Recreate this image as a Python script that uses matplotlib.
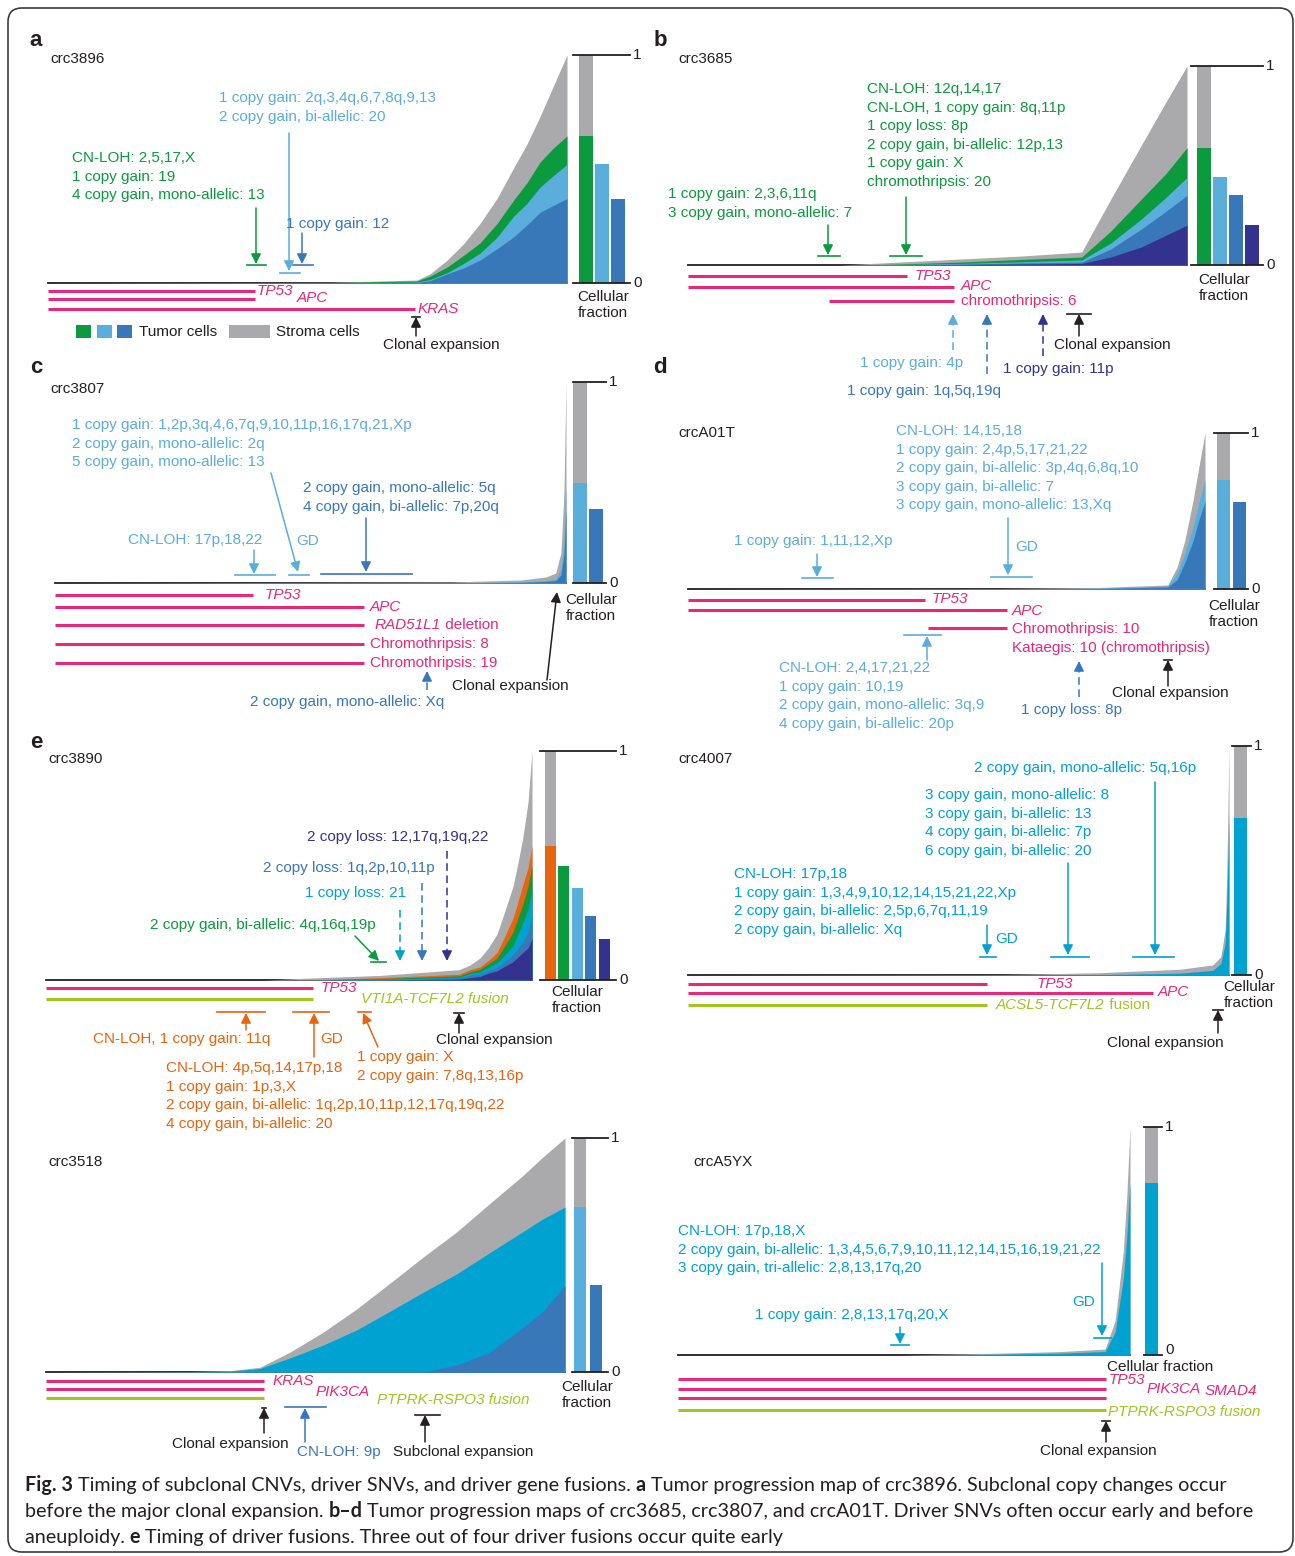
import matplotlib
matplotlib.use('Agg')
import matplotlib.pyplot as plt
from matplotlib.patches import Rectangle, FancyBboxPatch

W, H = 1295, 1556
plt.rcParams['font.family'] = ['Liberation Sans', 'DejaVu Sans']

GREEN = '#0b9a3d'
LBLUE = '#5aaedb'
DBLUE = '#3878b9'
NAVY = '#33328f'
GRAY = '#aaaaac'
PINK = '#e8287a'
ORANGE = '#e9640e'
LIME = '#a2c61f'
CYAN = '#00a2d2'
INK = '#231f20'

# ---- values; time runs 0..1 along each baseline ----
# a: crc3896
a_time = [0, .543, .711, .736, .769, .800, .832, .865, .896, .923, .948, .973, 1.0]
a_stroma = [0, .003, .013, .04, .10, .17, .26, .37, .50, .61, .73, .86, 1.0]
a_green = [0, .002, .009, .03, .07, .12, .175, .26, .36, .44, .53, .59, .645]
a_lblue = [0, 0, .004, .015, .045, .085, .13, .20, .29, .35, .42, .47, .52]
a_dblue = [0, 0, .002, .01, .04, .065, .10, .15, .20, .255, .31, .34, .37]
# b: crc3685
b_time = [0, .305, .426, .546, .667, .789, .847, .908, .958, 1.0]
b_stroma = [0, 0, .015, .03, .045, .065, .33, .60, .82, 1.0]
b_green = [0, 0, .005, .015, .028, .04, .17, .33, .46, .59]
b_lblue = [0, 0, .002, .008, .016, .025, .11, .23, .34, .44]
b_dblue = [0, 0, .001, .005, .01, .015, .08, .18, .27, .35]
b_navy = [0, 0, 0, .002, .005, .008, .04, .09, .15, .20]
# c: crc3807
c_time = [0, .775, .912, .961, .980, .990, .996, 1.0]
c_stroma = [0, .005, .015, .03, .05, .15, .45, 1.0]
c_lblue = [0, .001, .006, .012, .02, .07, .20, .50]
c_dblue = [0, 0, .003, .008, .012, .04, .14, .37]
# d: crcA01T
d_time = [0, .603, .797, .928, .946, .961, .977, .988, 1.0]
d_stroma = [0, .003, .01, .026, .14, .31, .57, .78, 1.0]
d_lblue = [0, .001, .006, .019, .10, .23, .40, .55, .70]
d_dblue = [0, 0, .003, .013, .06, .17, .31, .44, .56]
# e: crc3890
e_time = [0, .451, .535, .687, .850, .872, .893, .910, .928, .944, .961, .971, .981, .992, 1.0]
e_stroma = [0, 0, .008, .02, .045, .065, .096, .14, .20, .30, .41, .51, .62, .78, 1.0]
e_orange = [0, 0, 0, .01, .025, .045, .057, .085, .12, .19, .27, .34, .415, .49, .585]
e_green = [0, 0, 0, .006, .018, .035, .047, .07, .096, .15, .21, .27, .33, .41, .50]
e_lblue = [0, 0, 0, .004, .012, .028, .035, .055, .075, .11, .15, .20, .25, .31, .40]
e_dblue = [0, 0, 0, .002, .008, .02, .025, .04, .055, .08, .11, .14, .165, .21, .28]
e_navy = [0, 0, 0, 0, .004, .01, .015, .03, .04, .06, .08, .10, .12, .14, .18]
# crc4007
f_time = [0, .577, .760, .909, .970, .985, .993, .996, 1.0]
f_stroma = [0, .002, .01, .025, .044, .08, .2, .45, 1.0]
f_cyan = [0, 0, .002, .008, .02, .05, .14, .32, .685]
# crc3518
g_time = [0, .277, .355, .412, .470, .534, .599, .663, .726, .792, .855, .919, .958, 1.0]
g_stroma = [0, .002, .006, .02, .085, .17, .27, .38, .49, .60, .72, .84, .92, 1.0]
g_cyan = [0, .001, .004, .015, .06, .115, .18, .26, .34, .42, .51, .60, .655, .705]
g_dblue = [0, 0, 0, 0, 0, 0, 0, 0, 0, .03, .085, .19, .26, .37]
# crcA5YX
h_time = [0, .491, .712, .845, .945, .967, .985, .993, 1.0]
h_stroma = [0, 0, .008, .015, .026, .15, .45, .7, 1.0]
h_cyan = [0, 0, .004, .008, .015, .10, .33, .52, .755]

a_green_txt = ['CN-LOH: 2,5,17,X', '1 copy gain: 19', '4 copy gain, mono-allelic: 13']
a_lblue_txt = ['1 copy gain: 2q,3,4q,6,7,8q,9,13', '2 copy gain, bi-allelic: 20']
b_green_txt1 = ['1 copy gain: 2,3,6,11q', '3 copy gain, mono-allelic: 7']
b_green_txt2 = ['CN-LOH: 12q,14,17', 'CN-LOH, 1 copy gain: 8q,11p', '1 copy loss: 8p',
                '2 copy gain, bi-allelic: 12p,13', '1 copy gain: X', 'chromothripsis: 20']
c_lblue_txt = ['1 copy gain: 1,2p,3q,4,6,7q,9,10,11p,16,17q,21,Xp',
               '2 copy gain, mono-allelic: 2q', '5 copy gain, mono-allelic: 13']
c_dblue_txt = ['2 copy gain, mono-allelic: 5q', '4 copy gain, bi-allelic: 7p,20q']
d_lblue_txt1 = ['CN-LOH: 14,15,18', '1 copy gain: 2,4p,5,17,21,22',
                '2 copy gain, bi-allelic: 3p,4q,6,8q,10', '3 copy gain, bi-allelic: 7',
                '3 copy gain, mono-allelic: 13,Xq']
d_lblue_txt2 = ['CN-LOH: 2,4,17,21,22', '1 copy gain: 10,19',
                '2 copy gain, mono-allelic: 3q,9', '4 copy gain, bi-allelic: 20p']
e_orange_txt1 = ['CN-LOH: 4p,5q,14,17p,18', '1 copy gain: 1p,3,X',
                 '2 copy gain, bi-allelic: 1q,2p,10,11p,12,17q,19q,22', '4 copy gain, bi-allelic: 20']
e_orange_txt2 = ['1 copy gain: X', '2 copy gain: 7,8q,13,16p']
f_txt1 = ['3 copy gain, mono-allelic: 8', '3 copy gain, bi-allelic: 13',
          '4 copy gain, bi-allelic: 7p', '6 copy gain, bi-allelic: 20']
f_txt2 = ['CN-LOH: 17p,18', '1 copy gain: 1,3,4,9,10,12,14,15,21,22,Xp',
          '2 copy gain, bi-allelic: 2,5p,6,7q,11,19', '2 copy gain, bi-allelic: Xq']
h_txt = ['CN-LOH: 17p,18,X', '2 copy gain, bi-allelic: 1,3,4,5,6,7,9,10,11,12,14,15,16,19,21,22',
         '3 copy gain, tri-allelic: 2,8,13,17q,20']

fig = plt.figure(figsize=(W / 100, H / 100), dpi=100)
ov = fig.add_axes([0, 0, 1, 1], zorder=5)
ov.set_xlim(0, W)
ov.set_ylim(H, 0)
ov.axis('off')
rend = fig.canvas.get_renderer()


def box(x0, y0, x1, y1):
    return [x0 / W, 1 - y1 / H, (x1 - x0) / W, (y1 - y0) / H]


def area(x0, x1, ytop, ybase, t, layers, colors):
    ax = fig.add_axes(box(x0, ytop, x1, ybase), zorder=1)
    ax.set_xlim(0, 1)
    ax.set_ylim(0, 1)
    ax.axis('off')
    ax.plot([0, 1], [0, 0], color=INK, lw=1.3, clip_on=False, zorder=0)
    for vals, c in zip(layers, colors):
        ax.fill_between(t, 0, vals, color=c, lw=0, zorder=1)


def bars(x0, x1, ytop, ybase, left, width, pitch, values, colors, zero_dy=0):
    ax = fig.add_axes(box(x0, ytop, x1, ybase), zorder=1)
    ax.set_xlim(x0, x1)
    ax.set_ylim(0, 1)
    ax.axis('off')
    lefts = [left + i * pitch for i in range(len(values))]
    ax.bar(lefts[0], 1, width=width, align='edge', color=GRAY)
    ax.bar(lefts, values, width=width, align='edge', color=colors)
    for v in (0, 1):
        ax.plot([x0, x1], [v, v], color=INK, lw=1.3, clip_on=False)
    ax.text(x1 + 3, 1, '1', fontsize=11, color=INK, va='center')
    ax.text(x1 + 3, zero_dy, '0', fontsize=11, color=INK, va='center')


def T(x, y, s, c=INK, size=11, **kw):
    return ov.text(x, y, s, color=c, fontsize=size, va='center', **kw)


def block(x, y, lines, c, dy=18.6):
    for i, s in enumerate(lines):
        T(x, y + i * dy, s, c)


def seg(x, y, parts, c=INK, size=11, family=None):
    for s, w, st in parts:
        t = ov.text(x, y, s, color=c, fontsize=size, va='center', fontweight=w,
                    fontstyle=st, family=family)
        x += t.get_window_extent(rend).width


def hline(x0, x1, y, c=PINK, lw=2.2):
    ov.plot([x0, x1], [y, y], color=c, lw=lw, solid_capstyle='butt')


def tick(x0, x1, y, c):
    ov.plot([x0, x1], [y, y], color=c, lw=1.2)


def arrow(x0, y0, x1, y1, c, dashed=False):
    if dashed:
        L = ((x1 - x0) ** 2 + (y1 - y0) ** 2) ** .5
        xm, ym = x1 - (x1 - x0) / L * 8, y1 - (y1 - y0) / L * 8
        ov.plot([x0, xm], [y0, ym], color=c, lw=1.1, ls=(0, (5, 3)))
        x0, y0 = xm, ym
    ov.annotate('', xy=(x1, y1), xytext=(x0, y0),
                arrowprops=dict(arrowstyle='-|>,head_length=0.5,head_width=0.25', color=c,
                                lw=1.1, shrinkA=0, shrinkB=0, mutation_scale=12))


def clonal(x, y0, y1, text_x, text_y, label='Clonal expansion', bar=(4, 4)):
    arrow(x, y0, x, y1, INK)
    tick(x - bar[0], x + bar[1], y1, INK)
    T(text_x, text_y, label)


# frame
ov.add_patch(FancyBboxPatch((8, 8), 1285, 1544, boxstyle='round,pad=0,rounding_size=14',
                            fill=False, ec='#3c3c3c', lw=1.2))

# ---------------- a: crc3896 ----------------
T(36, 40, 'a', size=16, fontweight='bold', ha='center')
T(50, 59, 'crc3896')
area(48, 567, 55, 283, a_time, [a_stroma, a_green, a_lblue, a_dblue], [GRAY, GREEN, LBLUE, DBLUE])
bars(573, 630, 55, 283, 579, 14, 16, [a_green[-1], a_lblue[-1], a_dblue[-1]], [GREEN, LBLUE, DBLUE])
T(603, 305, 'Cellular\nfraction', ha='center')
block(72, 158, a_green_txt, GREEN)
arrow(256, 208, 256, 264, GREEN)
tick(247, 266, 265, GREEN)
block(219, 98, a_lblue_txt, LBLUE)
arrow(289, 133, 289, 271, LBLUE)
tick(280, 300, 273, LBLUE)
T(286, 224, '1 copy gain: 12', DBLUE)
arrow(302, 233, 302, 264, DBLUE)
tick(293, 313, 265, DBLUE)
hline(48, 255, 291)
hline(48, 255, 299)
hline(48, 415, 309)
T(257, 291, 'TP53', PINK, style='italic')
T(297, 298, 'APC', PINK, style='italic')
T(418, 309, 'KRAS', PINK, style='italic')
for i, c in enumerate([GREEN, LBLUE, DBLUE]):
    ov.add_patch(Rectangle((76 + i * 20.5, 325), 15, 13, color=c, lw=0))
T(139, 332, 'Tumor cells')
ov.add_patch(Rectangle((229, 325), 41, 13, color=GRAY, lw=0))
T(276, 332, 'Stroma cells')
clonal(416, 336, 317, 383, 345)

# ---------------- b: crc3685 ----------------
T(660, 40, 'b', size=16, fontweight='bold', ha='center')
T(678, 59, 'crc3685')
area(688, 1187, 66, 265, b_time, [b_stroma, b_green, b_lblue, b_dblue, b_navy],
     [GRAY, GREEN, LBLUE, DBLUE, NAVY])
bars(1191, 1263, 66, 265, 1197, 14, 16, [b_green[-1], b_lblue[-1], b_dblue[-1], b_navy[-1]],
     [GREEN, LBLUE, DBLUE, NAVY])
T(1224, 288, 'Cellular\nfraction', ha='center')
block(668, 194, b_green_txt1, GREEN)
arrow(828, 225, 828, 255, GREEN)
tick(818, 840, 256, GREEN)
block(867, 89, b_green_txt2, GREEN)
arrow(906, 197, 906, 255, GREEN)
tick(890, 922, 256, GREEN)
hline(688, 907, 276)
hline(688, 954, 287)
hline(829, 954, 301)
T(915, 276, 'TP53', PINK, style='italic')
T(961, 286, 'APC', PINK, style='italic')
T(961, 301, 'chromothripsis: 6', PINK)
arrow(953, 350, 953, 314, LBLUE, dashed=True)
T(860, 363, '1 copy gain: 4p', LBLUE)
arrow(987, 374, 987, 314, DBLUE, dashed=True)
T(847, 391, '1 copy gain: 1q,5q,19q', DBLUE)
arrow(1043, 356, 1043, 314, NAVY, dashed=True)
T(1003, 369, '1 copy gain: 11p', NAVY)
clonal(1079, 336, 314, 1054, 345, bar=(12, 12))

# ---------------- c: crc3807 ----------------
T(36, 367, 'c', size=16, fontweight='bold', ha='center')
T(50, 389, 'crc3807')
area(55, 566, 382, 583, c_time, [c_stroma, c_lblue, c_dblue], [GRAY, LBLUE, DBLUE])
bars(573, 606, 382, 583, 573, 14, 16, [c_lblue[-1], c_dblue[-1]], [LBLUE, DBLUE])
T(591, 608, 'Cellular\nfraction', ha='center')
block(72, 425, c_lblue_txt, LBLUE)
arrow(271, 473, 298, 572, LBLUE)
tick(289, 309, 575, LBLUE)
T(296, 541, 'GD', LBLUE)
T(128, 540, 'CN-LOH: 17p,18,22', LBLUE)
arrow(254, 550, 254, 574, LBLUE)
tick(235, 275, 575, LBLUE)
block(303, 488, c_dblue_txt, DBLUE)
arrow(366, 518, 366, 572, DBLUE)
tick(321, 412, 574, DBLUE)
hline(55, 253, 595)
for y in (607, 625, 644, 663):
    hline(55, 364, y)
T(265, 595, 'TP53', PINK, style='italic')
T(370, 607, 'APC', PINK, style='italic')
seg(375, 625, [('RAD51L1', 'normal', 'italic'), (' deletion', 'normal', 'normal')], PINK)
T(370, 644, 'Chromothripsis: 8', PINK)
T(370, 663, 'Chromothripsis: 19', PINK)
arrow(427, 690, 427, 671, DBLUE, dashed=True)
T(250, 702, '2 copy gain, mono-allelic: Xq', DBLUE)
arrow(547, 680, 557, 592, INK)
T(452, 686, 'Clonal expansion')

# ---------------- d: crcA01T ----------------
T(660, 367, 'd', size=16, fontweight='bold', ha='center')
T(678, 433, 'crcA01T')
area(688, 1205, 433, 589, d_time, [d_stroma, d_lblue, d_dblue], [GRAY, LBLUE, DBLUE])
bars(1214, 1248, 433, 589, 1217, 13, 16, [d_lblue[-1], d_dblue[-1]], [LBLUE, DBLUE])
T(1234, 614, 'Cellular\nfraction', ha='center')
block(896, 431, d_lblue_txt1, LBLUE)
arrow(1008, 518, 1008, 575, LBLUE)
tick(991, 1032, 577, LBLUE)
T(1015, 547, 'GD', LBLUE)
T(734, 541, '1 copy gain: 1,11,12,Xp', LBLUE)
arrow(817, 554, 817, 577, LBLUE)
tick(802, 833, 578, LBLUE)
hline(688, 925, 600)
hline(688, 1007, 610)
hline(928, 1007, 628)
T(932, 599, 'TP53', PINK, style='italic')
T(1012, 611, 'APC', PINK, style='italic')
T(1012, 629, 'Chromothripsis: 10', PINK)
T(1012, 648, 'Kataegis: 10 (chromothripsis)', PINK)
arrow(927, 660, 927, 636, LBLUE)
tick(904, 941, 635, LBLUE)
block(779, 668, d_lblue_txt2, LBLUE)
arrow(1079, 697, 1079, 661, DBLUE, dashed=True)
T(1021, 710, '1 copy loss: 8p', DBLUE)
clonal(1168, 686, 660, 1112, 693)

# ---------------- e: crc3890 ----------------
T(36, 742, 'e', size=16, fontweight='bold', ha='center')
T(48, 759, 'crc3890')
area(46, 532, 751, 980, e_time, [e_stroma, e_orange, e_green, e_lblue, e_dblue, e_navy],
     [GRAY, ORANGE, GREEN, CYAN, DBLUE, NAVY])
bars(540, 616, 751, 980, 544.5, 11, 13.6,
     [e_orange[-1], e_green[-1], e_lblue[-1], e_dblue[-1], e_navy[-1]],
     [ORANGE, GREEN, LBLUE, DBLUE, NAVY])
T(577, 1000, 'Cellular\nfraction', ha='center')
T(307, 837, '2 copy loss: 12,17q,19q,22', NAVY)
arrow(447, 851, 447, 961, NAVY, dashed=True)
T(263, 868, '2 copy loss: 1q,2p,10,11p', DBLUE)
arrow(422, 883, 422, 961, DBLUE, dashed=True)
T(305, 893, '1 copy loss: 21', CYAN)
arrow(400, 910, 400, 961, CYAN, dashed=True)
T(150, 925, '2 copy gain, bi-allelic: 4q,16q,19p', GREEN)
arrow(355, 936, 379, 961, GREEN)
tick(371, 386, 962, GREEN)
hline(46, 313, 988)
hline(46, 313, 999, LIME)
T(321, 988, 'TP53', PINK, style='italic')
T(361, 999, 'VTI1A-TCF7L2 fusion', LIME, style='italic')
arrow(246, 1030, 246, 1013, ORANGE)
tick(217, 265, 1012, ORANGE)
T(93, 1039, 'CN-LOH, 1 copy gain: 11q', ORANGE)
arrow(314, 1057, 314, 1013, ORANGE)
tick(293, 329, 1012, ORANGE)
T(320, 1039, 'GD', ORANGE)
block(166, 1068, e_orange_txt1, ORANGE)
arrow(378, 1047, 363, 1013, ORANGE)
tick(358, 371, 1012, ORANGE)
block(357, 1057, e_orange_txt2, ORANGE)
clonal(459, 1033, 1013, 436, 1040, bar=(5, 5))

# ---------------- crc4007 ----------------
T(678, 759, 'crc4007')
area(688, 1229, 746, 975, f_time, [f_stroma, f_cyan], [GRAY, CYAN])
bars(1232, 1251, 746, 975, 1234, 13, 16, [f_cyan[-1]], [CYAN])
T(1249, 995, 'Cellular\nfraction', ha='center')
T(974, 768, '2 copy gain, mono-allelic: 5q,16p', CYAN)
arrow(1155, 782, 1155, 955, CYAN)
tick(1133, 1174, 957, CYAN)
block(925, 795, f_txt1, CYAN)
arrow(1068, 863, 1068, 955, CYAN)
tick(1051, 1089, 957, CYAN)
block(734, 874, f_txt2, CYAN)
arrow(987, 925, 987, 955, CYAN)
tick(980, 996, 957, CYAN)
T(995, 939, 'GD', CYAN)
hline(688, 987, 984)
hline(688, 1153, 993)
hline(688, 987, 1005, LIME)
T(1037, 984, 'TP53', PINK, style='italic')
T(1158, 992, 'APC', PINK, style='italic')
seg(996, 1005, [('ACSL5-TCF7L2', 'normal', 'italic'), (' fusion', 'normal', 'normal')], LIME)
clonal(1218, 1033, 1010, 1107, 1043, bar=(5, 5))

# ---------------- crc3518 ----------------
T(48, 1162, 'crc3518')
area(46, 565, 1138, 1372, g_time, [g_stroma, g_cyan, g_dblue], [GRAY, CYAN, DBLUE])
bars(572, 608, 1138, 1372, 574, 12, 16, [g_cyan[-1], g_dblue[-1]], [LBLUE, DBLUE])
T(587, 1395, 'Cellular\nfraction', ha='center')
hline(46, 264, 1381)
hline(46, 264, 1389)
hline(46, 264, 1398, LIME)
T(273, 1381, 'KRAS', PINK, style='italic')
T(316, 1392, 'PIK3CA', PINK, style='italic')
T(377, 1400, 'PTPRK-RSPO3 fusion', LIME, style='italic')
clonal(264, 1433, 1408, 172, 1444, bar=(2, 2))
arrow(305, 1442, 305, 1408, DBLUE)
tick(285, 326, 1407, DBLUE)
T(297, 1452, 'CN-LOH: 9p', DBLUE)
clonal(425, 1442, 1415, 393, 1452, label='Subclonal expansion', bar=(10, 15))

# ---------------- crcA5YX ----------------
T(693, 1162, 'crcA5YX')
area(678, 1130, 1127, 1355, h_time, [h_stroma, h_cyan], [GRAY, CYAN])
bars(1144, 1162, 1127, 1355, 1145, 13, 16, [h_cyan[-1]], [CYAN], zero_dy=0.02)
T(1107, 1367, 'Cellular fraction')
block(678, 1231, h_txt, CYAN)
arrow(1102, 1263, 1102, 1336, CYAN)
tick(1094, 1111, 1338, CYAN)
T(1072, 1302, 'GD', CYAN)
T(755, 1315, '1 copy gain: 2,8,13,17q,20,X', CYAN)
arrow(900, 1327, 900, 1344, CYAN)
tick(891, 909, 1345, CYAN)
for y in (1379, 1389, 1398):
    hline(678, 1106, y)
hline(678, 1106, 1410, LIME)
T(1109, 1380, 'TP53', PINK, style='italic')
T(1147, 1389, 'PIK3CA', PINK, style='italic')
T(1205, 1391, 'SMAD4', PINK, style='italic')
T(1108, 1412, 'PTPRK-RSPO3 fusion', LIME, style='italic')
clonal(1106, 1442, 1421, 1040, 1451)

# ---------------- caption ----------------
cap = ['Lato', 'DejaVu Sans']
seg(25, 1485, [('Fig. 3', 'bold', 'normal'),
               (' Timing of subclonal CNVs, driver SNVs, and driver gene fusions. ', 'normal', 'normal'),
               ('a', 'bold', 'normal'),
               (' Tumor progression map of crc3896. Subclonal copy changes occur', 'normal', 'normal')],
    size=14.2, family=cap)
seg(25, 1511, [('before the major clonal expansion. ', 'normal', 'normal'),
               ('b\u2013d', 'bold', 'normal'),
               (' Tumor progression maps of crc3685, crc3807, and crcA01T. Driver SNVs often occur early and before',
                'normal', 'normal')],
    size=14.2, family=cap)
seg(25, 1537, [('aneuploidy. ', 'normal', 'normal'), ('e', 'bold', 'normal'),
               (' Timing of driver fusions. Three out of four driver fusions occur quite early', 'normal', 'normal')],
    size=14.2, family=cap)

fig.savefig('out.png', dpi=100)
